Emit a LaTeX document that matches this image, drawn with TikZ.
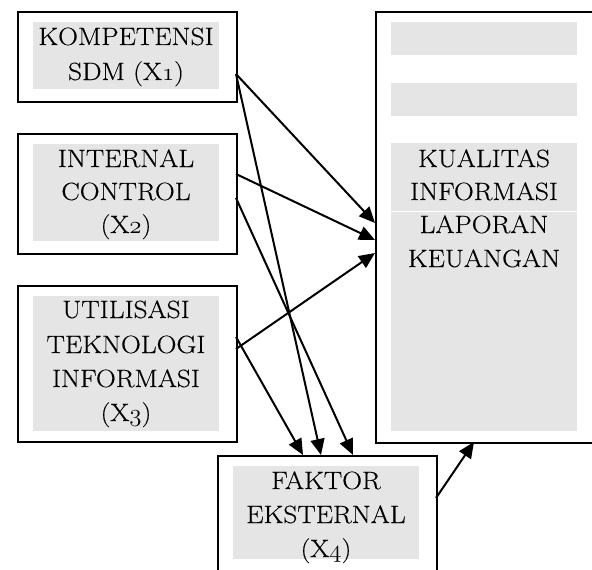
\documentclass[tikz,border=0pt]{standalone}
\usepackage{fontspec}
\setmainfont{Latin Modern Roman}[FakeStretch=1.1,FakeBold=0.3]
\usetikzlibrary{arrows.meta}
\newcommand{\osn}[1]{{\usefont{OML}{cmm}{m}{it}#1}}
\begin{document}
\begin{tikzpicture}[x=1pt,y=-1pt,
  box/.style={draw=black,line width=2pt},
  shade/.style={fill=gray!20,draw=none},
  txt/.style={anchor=base,inner sep=0pt,font=\fontsize{25}{30}\selectfont},
  arr/.style={line width=2pt,-{Triangle[length=16pt,width=14pt]}}]
\useasboundingbox (0,0) rectangle (592,570);
\clip (0,0) rectangle (592,570);
% boxes
\node[box,inner sep=0pt,minimum width=219pt,minimum height=90pt,anchor=north west] (x1) at (17,11) {};
\node[box,inner sep=0pt,minimum width=219pt,minimum height=120pt,anchor=north west] (x2) at (17,133) {};
\node[box,inner sep=0pt,minimum width=219pt,minimum height=156pt,anchor=north west] (x3) at (17,285) {};
\node[box,inner sep=0pt,minimum width=219pt,minimum height=140pt,anchor=north west] (x4) at (217,455) {};
\node[box,inner sep=0pt,minimum width=240pt,minimum height=431pt,anchor=north west] (y) at (375,11) {};
% shading
\fill[shade] (33,22) rectangle (219,89);
\fill[shade] (33,144) rectangle (219,241);
\fill[shade] (33,296) rectangle (219,431);
\fill[shade] (233,466) rectangle (419,559);
\fill[shade] (391,22) rectangle (577,55);
\fill[shade] (391,83) rectangle (577,116);
\fill[shade] (391,143) rectangle (577,431);
\draw[white,line width=1pt] (391,211) -- (577,211);
% texts
\node[txt] (t1a) at (126,45) {KOMPETENSI};
\node[txt] (t1b) at (126,80) {SDM (X\osn{1})};
\node[txt] (t2a) at (126,167) {INTERNAL};
\node[txt] (t2b) at (126,200) {CONTROL};
\node[txt] (t2c) at (126,233) {(X\osn{2})};
\node[txt] (t3a) at (126,318) {UTILISASI};
\node[txt] (t3b) at (126,353) {TEKNOLOGI};
\node[txt] (t3c) at (126,387) {INFORMASI};
\node[txt] (t3d) at (126,421) {(X\osn{3})};
\node[txt] (t4a) at (326,489) {FAKTOR};
\node[txt] (t4b) at (326,523) {EKSTERNAL};
\node[txt] (t4c) at (326,557) {(X\osn{4})};
\node[txt] (tya) at (484,167) {KUALITAS};
\node[txt] (tyb) at (484,200) {INFORMASI};
\node[txt] (tyc) at (484,233) {LAPORAN};
\node[txt] (tyd) at (484,267) {KEUANGAN};
% connector points
\coordinate (p1) at (236,74);
\coordinate (p2a) at (236,174);
\coordinate (p2b) at (236,198);
\coordinate (p3a) at (236,349);
\coordinate (p3b) at (236,337);
\coordinate (p4) at (436,498);
\coordinate (y1) at (375,223);
\coordinate (y2) at (375,240);
\coordinate (y3) at (375,253);
\coordinate (y4) at (474,442);
\coordinate (q1) at (321,455);
\coordinate (q2) at (353,455);
\coordinate (q3) at (303,455);
\draw[arr] (p1) -- (y1);
\draw[arr] (p1) -- (q1);
\draw[arr] (p2a) -- (y2);
\draw[arr] (p2b) -- (q2);
\draw[arr] (p3a) -- (y3);
\draw[arr] (p3b) -- (q3);
\draw[arr] (p4) -- (y4);
\end{tikzpicture}
\end{document}
